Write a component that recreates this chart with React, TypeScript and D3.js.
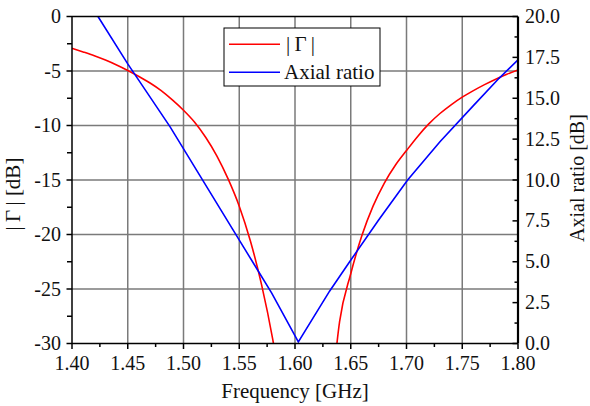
import React from 'react';
import * as d3 from 'd3';

// ---------- data ----------
const freqTicks = [1.40, 1.45, 1.50, 1.55, 1.60, 1.65, 1.70, 1.75, 1.80];
const freqMinor = [1.425, 1.475, 1.525, 1.575, 1.625, 1.675, 1.725, 1.775];
const leftTicks = [0, -5, -10, -15, -20, -25, -30];
const leftMinor = [-2.5, -7.5, -12.5, -17.5, -22.5, -27.5];
const rightTicks = [0, 2.5, 5, 7.5, 10, 12.5, 15, 17.5, 20];
const rightMinor = [1.25, 3.75, 6.25, 8.75, 11.25, 13.75, 16.25, 18.75];

// |Γ| (dB): left branch and right branch (dip goes below -30 dB)
const gammaLeftFreq = [1.40, 1.41, 1.42, 1.43, 1.44, 1.45, 1.46, 1.47, 1.48, 1.49, 1.50, 1.51, 1.52, 1.53, 1.54, 1.55, 1.56, 1.57, 1.58, 1.59];
const gammaLeftDb = [-2.92, -3.25, -3.60, -4.00, -4.45, -4.95, -5.50, -6.10, -6.80, -7.65, -8.60, -9.70, -11.1, -12.8, -14.9, -17.4, -20.6, -24.6, -29.6, -36.0];
const gammaRightFreq = [1.63, 1.64, 1.65, 1.66, 1.67, 1.68, 1.69, 1.70, 1.71, 1.72, 1.73, 1.74, 1.75, 1.76, 1.77, 1.78, 1.79, 1.80];
const gammaRightDb = [-38.0, -28.0, -23.6, -20.1, -17.4, -15.3, -13.65, -12.3, -11.0, -9.85, -8.9, -8.1, -7.4, -6.8, -6.25, -5.75, -5.3, -4.9];

// Axial ratio (dB)
const arFreq = [1.4233, 1.450, 1.488, 1.518, 1.548, 1.579, 1.603, 1.631, 1.649, 1.675, 1.701, 1.730, 1.760, 1.783, 1.800];
const arDb = [20.0, 17.1, 13.25, 9.9, 6.55, 3.1, 0.1, 3.2, 5.0, 7.55, 10.0, 12.34, 14.55, 16.22, 17.35];

// ---------- layout ----------
const W = 590, H = 406;
const L = 72, R = 518, T = 16.5, B = 343.5;
const FONT = "'Liberation Serif', 'Times New Roman', serif";

export default function App() {
  const x = d3.scaleLinear().domain([1.40, 1.80]).range([L, R]);
  const yL = d3.scaleLinear().domain([-30, 0]).range([B, T]);
  const yR = d3.scaleLinear().domain([0, 20]).range([B, T]);

  const gL = gammaLeftFreq.map((f, i) => [f, gammaLeftDb[i]] as [number, number]);
  const gR = gammaRightFreq.map((f, i) => [f, gammaRightDb[i]] as [number, number]);
  const arPts = arFreq.map((f, i) => [f, arDb[i]] as [number, number]);

  const gammaLine = d3.line<[number, number]>()
    .x(d => x(d[0]))
    .y(d => yL(d[1]))
    .curve(d3.curveMonotoneX);
  const arLine = d3.line<[number, number]>()
    .x(d => x(d[0]))
    .y(d => yR(d[1]))
    .curve(d3.curveLinear);

  const gridColor = '#7a7a7a';

  return (
    <svg width={W} height={H} style={{ position: 'absolute', left: 0, top: 0, background: '#fff' }}
      fontFamily={FONT}>
      <defs>
        <clipPath id="plotclip">
          <rect x={L} y={T} width={R - L} height={B - T} />
        </clipPath>
      </defs>
      <rect x={0} y={0} width={W} height={H} fill="#fff" />

      {/* grid */}
      {freqTicks.slice(1, -1).map(f => (
        <line key={'gx' + f} x1={x(f)} x2={x(f)} y1={T} y2={B} stroke={gridColor} strokeWidth={1.5} />
      ))}
      {leftTicks.slice(1, -1).map(v => (
        <line key={'gy' + v} x1={L} x2={R} y1={yL(v)} y2={yL(v)} stroke={gridColor} strokeWidth={1.5} />
      ))}

      {/* curves */}
      <g clipPath="url(#plotclip)">
        <path d={gammaLine(gL) || ''} fill="none" stroke="#ff0000" strokeWidth={1.6} />
        <path d={gammaLine(gR) || ''} fill="none" stroke="#ff0000" strokeWidth={1.6} />
        <path d={arLine(arPts) || ''} fill="none" stroke="#0000ff" strokeWidth={1.6} />
      </g>

      {/* frame */}
      <line x1={L} x2={R} y1={T} y2={T} stroke="#000" strokeWidth={1.5} />
      <line x1={L} x2={R} y1={B} y2={B} stroke="#000" strokeWidth={1.5} />
      <line x1={L} x2={L} y1={T} y2={B} stroke="#000" strokeWidth={1.5} />
      <line x1={R} x2={R} y1={T} y2={B} stroke="#000" strokeWidth={2.2} />

      {/* bottom ticks */}
      {freqTicks.map(f => (
        <g key={'bt' + f}>
          <line x1={x(f)} x2={x(f)} y1={B} y2={B + 5.5} stroke="#000" strokeWidth={1.5} />
          <text x={x(f)} y={370} textAnchor="middle" fontSize={20} fill="#111">{f.toFixed(2)}</text>
        </g>
      ))}
      {freqMinor.map(f => (
        <line key={'bm' + f} x1={x(f)} x2={x(f)} y1={B} y2={B + 3.5} stroke="#000" strokeWidth={1.5} />
      ))}

      {/* left ticks */}
      {leftTicks.map(v => (
        <g key={'lt' + v}>
          <line x1={L - 5.5} x2={L} y1={yL(v)} y2={yL(v)} stroke="#000" strokeWidth={1.5} />
          <text x={61} y={yL(v) + 6.5} textAnchor="end" fontSize={20} fill="#111">{v === 0 ? '0' : '-' + Math.abs(v)}</text>
        </g>
      ))}
      {leftMinor.map(v => (
        <line key={'lm' + v} x1={L - 5} x2={L} y1={yL(v)} y2={yL(v)} stroke="#000" strokeWidth={1.5} />
      ))}

      {/* right ticks (inward) */}
      {rightTicks.map(v => (
        <g key={'rt' + v}>
          <line x1={R - 5.5} x2={R} y1={yR(v)} y2={yR(v)} stroke="#000" strokeWidth={1.5} />
          <text x={525} y={yR(v) + 6.5} textAnchor="start" fontSize={20} fill="#111">{v.toFixed(1)}</text>
        </g>
      ))}
      {rightMinor.map(v => (
        <line key={'rm' + v} x1={R - 3.5} x2={R} y1={yR(v)} y2={yR(v)} stroke="#000" strokeWidth={1.5} />
      ))}

      {/* axis titles */}
      <text x={(L + R) / 2} y={398} textAnchor="middle" fontSize={21} fill="#111">Frequency [GHz]</text>
      <text transform={`translate(20, ${(T + B) / 2 + 14}) rotate(-90)`} textAnchor="middle" fontSize={21} fill="#111">|{'\u2009'}Γ{'\u2009'}| [dB]</text>
      <text transform={`translate(584, ${(T + B) / 2 - 2}) rotate(-90)`} textAnchor="middle" fontSize={20} fill="#111">Axial ratio [dB]</text>

      {/* legend */}
      <rect x={224} y={28} width={156} height={58} fill="#fff" stroke="#000" strokeWidth={1} />
      <line x1={229} x2={280} y1={44.3} y2={44.3} stroke="#ff0000" strokeWidth={1.6} />
      <line x1={229} x2={280} y1={72.3} y2={72.3} stroke="#0000ff" strokeWidth={1.6} />
      <text x={286} y={51} fontSize={21} fill="#111">|{'\u2009'}Γ{'\u2009'}|</text>
      <text x={284} y={79} fontSize={21} fill="#111">Axial ratio</text>
    </svg>
  );
}
